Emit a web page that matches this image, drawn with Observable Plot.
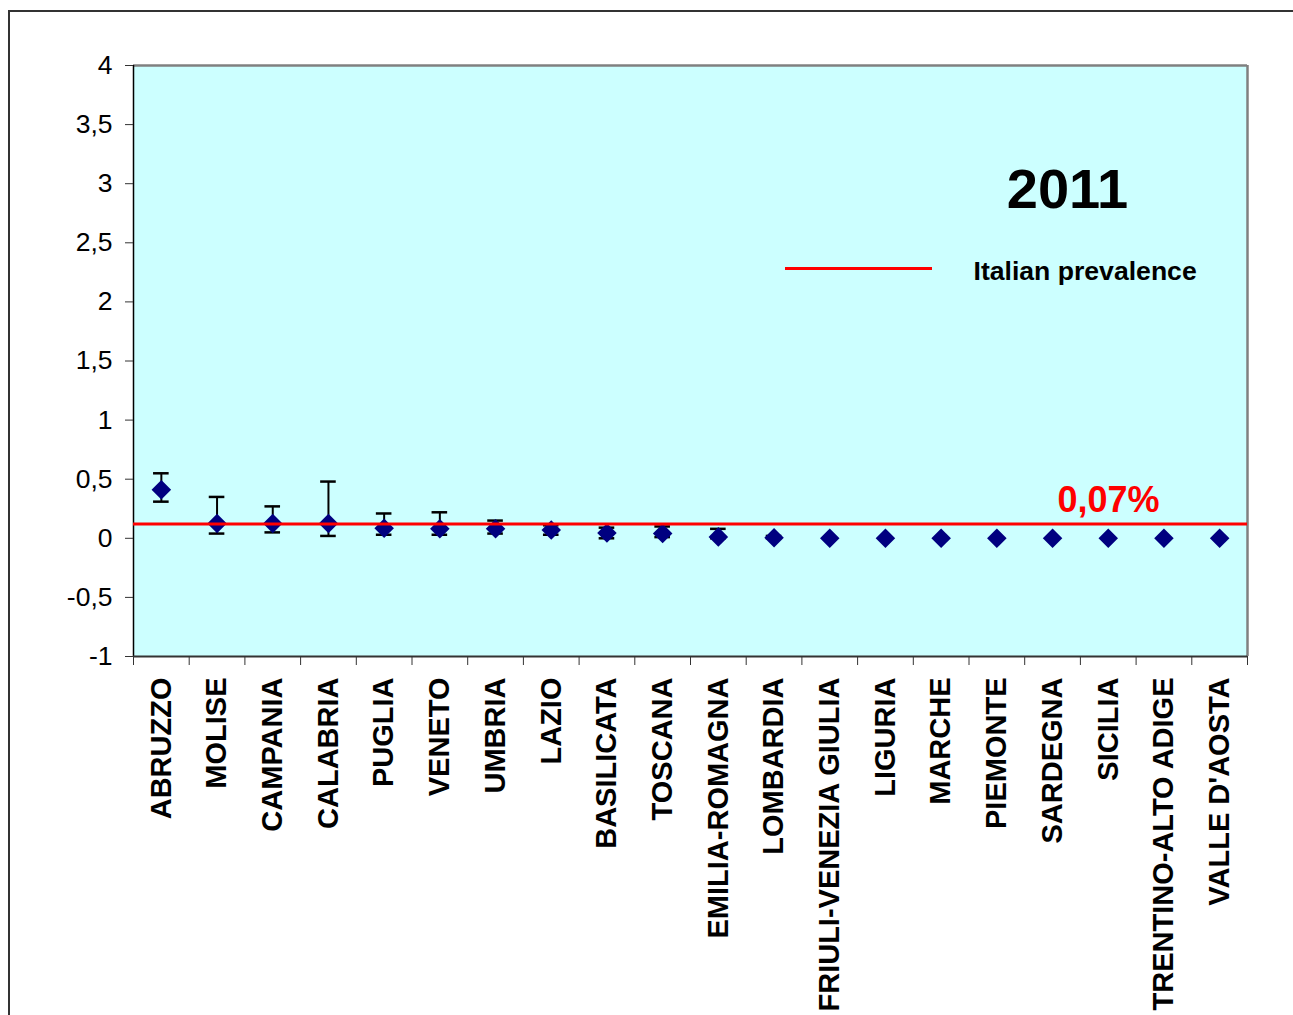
<!DOCTYPE html>
<html>
<head>
<meta charset="utf-8">
<script src="https://cdn.jsdelivr.net/npm/d3@7"></script>
<script src="https://cdn.jsdelivr.net/npm/@observablehq/plot@0.6"></script>
<style>
  html, body { margin: 0; padding: 0; background: #fff; }
  #chart {
    position: relative;
    width: 1293px;
    height: 1015px;
    overflow: hidden;
    font-family: "Liberation Sans", Arial, sans-serif;
  }
  #chart svg { position: absolute; left: 0; top: 0; }
  #border {
    position: absolute;
    left: 8px;
    top: 10px;
    width: 1400px;
    height: 1200px;
    border: 2px solid #333;
    box-sizing: border-box;
    pointer-events: none;
  }
  #legend-swatch {
    position: absolute;
    left: 785px;
    top: 267px;
    width: 147px;
    height: 3px;
    background: #ff0000;
  }
</style>
</head>
<body>
<div id="chart">
  <div id="border"></div>
</div>
<script>
// Regions, ordered by estimated prevalence
const regions = [
  "ABRUZZO", "MOLISE", "CAMPANIA", "CALABRIA", "PUGLIA", "VENETO", "UMBRIA",
  "LAZIO", "BASILICATA", "TOSCANA", "EMILIA-ROMAGNA", "LOMBARDIA",
  "FRIULI-VENEZIA GIULIA", "LIGURIA", "MARCHE", "PIEMONTE", "SARDEGNA",
  "SICILIA", "TRENTINO-ALTO ADIGE", "VALLE D'AOSTA"
];

// Point estimates and confidence limits per region
const estimate = [0.41, 0.125, 0.125, 0.125, 0.085, 0.08, 0.08, 0.07, 0.045, 0.04, 0.012, 0.005, 0, 0, 0, 0, 0, 0, 0, 0];
const lower    = [0.31, 0.04, 0.05, 0.02, 0.03, 0.03, 0.04, 0.03, 0.0, 0.01, 0.0, 0.0, 0, 0, 0, 0, 0, 0, 0, 0];
const upper    = [0.55, 0.35, 0.27, 0.48, 0.21, 0.22, 0.15, 0.11, 0.09, 0.10, 0.08, 0.02, 0, 0, 0, 0, 0, 0, 0, 0];

// National reference line
const italianPrevalence = 0.12;
const prevalenceLabel = "0,07%";

const yTicks = [-1, -0.5, 0, 0.5, 1, 1.5, 2, 2.5, 3, 3.5, 4];
const yearLabel = "2011";
const legendLabel = "Italian prevalence";

const rows = regions.map((region, i) => ({
  region,
  x: i + 0.5,
  estimate: estimate[i],
  lower: lower[i],
  upper: upper[i]
}));
const withBars = rows.filter(d => d.upper > d.lower);

const commaFormat = d => String(d).replace(".", ",");
const capHalf = 0.14;

const chart = Plot.plot({
  width: 1293,
  height: 1015,
  marginLeft: 133,
  marginRight: 46,
  marginTop: 65,
  marginBottom: 359,
  x: { domain: [0, regions.length], label: null },
  y: { domain: [-1, 4], label: null },
  style: {
    fontFamily: "'Liberation Sans', Arial, sans-serif",
    background: "transparent",
    color: "black",
    overflow: "visible"
  },
  marks: [
    Plot.frame({ fill: "#ccffff", stroke: null }),
    Plot.ruleY([4], { stroke: "#808080", strokeWidth: 2.5 }),
    Plot.ruleX([regions.length], { stroke: "#808080", strokeWidth: 2.5 }),
    Plot.ruleX([0], { stroke: "#000", strokeWidth: 1.5 }),
    Plot.ruleY([-1], { stroke: "#333", strokeWidth: 2 }),
    Plot.axisY({
      ticks: yTicks,
      tickFormat: commaFormat,
      tickSize: 8,
      tickPadding: 13,
      fontSize: 26.5,
      stroke: "#333"
    }),
    Plot.axisX({
      ticks: d3.range(regions.length + 1),
      tickFormat: () => "",
      tickSize: 9,
      stroke: "#333"
    }),
    Plot.text(rows, {
      x: "x",
      text: "region",
      frameAnchor: "bottom",
      dy: 21,
      rotate: -90,
      textAnchor: "end",
      lineAnchor: "middle",
      fontSize: 29,
      fontWeight: "bold",
      fill: "#000"
    }),
    // error bars
    Plot.ruleX(withBars, { x: "x", y1: "lower", y2: "upper", stroke: "#000", strokeWidth: 2 }),
    Plot.ruleY(withBars, { y: "upper", x1: d => d.x - capHalf, x2: d => d.x + capHalf, stroke: "#000", strokeWidth: 2.5 }),
    Plot.ruleY(withBars, { y: "lower", x1: d => d.x - capHalf, x2: d => d.x + capHalf, stroke: "#000", strokeWidth: 2.5 }),
    // estimates
    Plot.dot(rows, { x: "x", y: "estimate", symbol: "diamond2", r: 8.8, fill: "#000080", stroke: null }),
    // national prevalence
    Plot.ruleY([italianPrevalence], { stroke: "#ff0000", strokeWidth: 3 }),
    Plot.text([italianPrevalence], {
      y: d => d,
      text: () => prevalenceLabel,
      frameAnchor: "right",
      textAnchor: "end",
      lineAnchor: "bottom",
      dx: -88,
      dy: -12,
      fill: "#ff0000",
      fontSize: 36,
      fontWeight: "bold"
    }),
    Plot.text([yearLabel], {
      frameAnchor: "top-right",
      textAnchor: "middle",
      lineAnchor: "bottom",
      dx: -180,
      dy: 142,
      fontSize: 56,
      fontWeight: "bold",
      fill: "#000"
    }),
    Plot.text([legendLabel], {
      frameAnchor: "top-right",
      textAnchor: "start",
      lineAnchor: "bottom",
      dx: -274,
      dy: 214,
      fontSize: 26.6,
      fontWeight: "bold",
      fill: "#000"
    })
  ]
});

const container = document.getElementById("chart");
container.insertBefore(chart, container.firstChild);
const swatch = document.createElement("div");
swatch.id = "legend-swatch";
container.appendChild(swatch);
</script>
</body>
</html>
